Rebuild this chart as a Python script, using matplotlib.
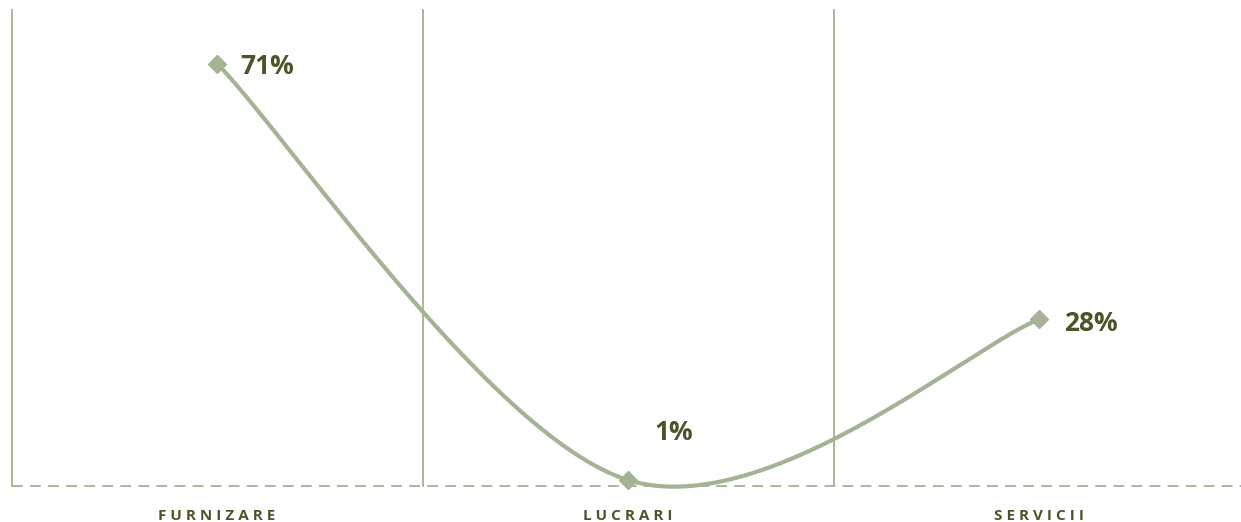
import numpy as np
import matplotlib
matplotlib.use("Agg")
import matplotlib.pyplot as plt

categories = ["FURNIZARE", "LUCRARI", "SERVICII"]
values = [71, 1, 28]
labels = ["71%", "1%", "28%"]

line_color = "#A4B391"
text_color = "#4B5526"

W, H = 1241, 522
fig = plt.figure(figsize=(W / 100, H / 100), dpi=100)
left_px, right_px, bottom_px, top_px = 11.5, 1244.5, 486, 10
ax = fig.add_axes([left_px / W, (H - bottom_px) / H,
                   (right_px - left_px) / W, (bottom_px - top_px) / H])
ax.set_xlim(-0.5, 2.5)
ax.set_ylim(0, 80)
ax.axis("off")

# category separators
for xs in [-0.5, 0.5, 1.5]:
    ax.plot([xs, xs], [0, 80], color=line_color, lw=1.3, clip_on=False, zorder=1)
# dashed baseline
ax.plot([-0.5, 2.5], [0, 0], color=line_color, lw=1.3, ls=(0, (6, 4)), clip_on=False, zorder=1)

# smooth line (Excel-style bezier through points)
x = np.arange(len(values), dtype=float)
y = np.array(values, dtype=float)
px = np.concatenate([[x[0]], x, [x[-1]]])
py = np.concatenate([[y[0]], y, [y[-1]]])
cx, cy = [], []
t = np.linspace(0, 1, 200)
for i in range(len(x) - 1):
    p0 = np.array([px[i + 1], py[i + 1]])
    p3 = np.array([px[i + 2], py[i + 2]])
    c1 = p0 + (np.array([px[i + 2], py[i + 2]]) - np.array([px[i], py[i]])) / 6
    c2 = p3 - (np.array([px[i + 3], py[i + 3]]) - np.array([px[i + 1], py[i + 1]])) / 6
    b = (np.outer((1 - t) ** 3, p0) + np.outer(3 * (1 - t) ** 2 * t, c1)
         + np.outer(3 * (1 - t) * t ** 2, c2) + np.outer(t ** 3, p3))
    cx.extend(b[:, 0]); cy.extend(b[:, 1])
ax.plot(cx, cy, color=line_color, lw=3, clip_on=False, zorder=2, solid_capstyle="round")
ax.plot(x, y, ls="none", marker="D", ms=9, color=line_color, clip_on=False, zorder=3)

offsets = [(17, -2, "left", "center"), (33, 34, "center", "center"), (18, -3, "left", "center")]
for xi, yi, lab, (dx, dy, ha, va) in zip(x, y, labels, offsets):
    ax.annotate(lab, (xi, yi), xytext=(dx, dy), textcoords="offset points",
                ha=ha, va=va, fontsize=19, fontweight="bold", color=text_color,
                family="Open Sans", annotation_clip=False)

for xi, cat in zip(x, categories):
    ax.text(xi, -5.0, " ".join(cat), ha="center", va="center",
            fontsize=11, fontweight="bold", color=text_color, family="Open Sans")

fig.savefig("out.png", dpi=100)
